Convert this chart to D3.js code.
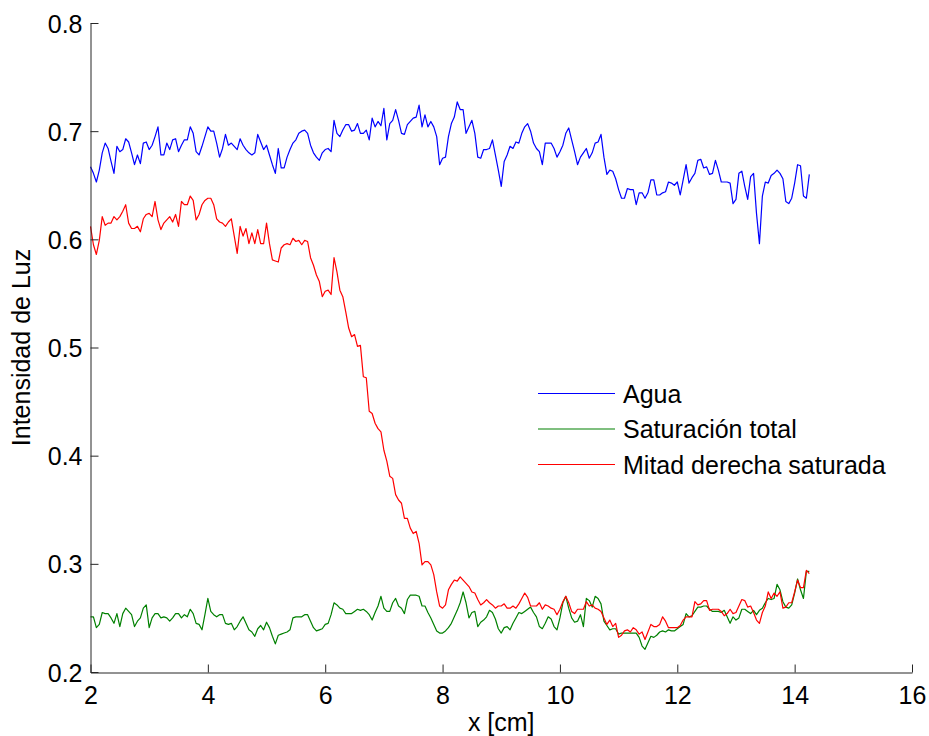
<!DOCTYPE html>
<html>
<head>
<meta charset="utf-8">
<script src="https://cdn.jsdelivr.net/npm/d3@7"></script>
<style>
  html, body { margin: 0; padding: 0; background: #fff; }
  svg { display: block; }
  text { font-family: "Liberation Sans", Arial, Helvetica, sans-serif; fill: #000; }
</style>
</head>
<body>
<svg id="chart" width="929" height="736"></svg>
<script>
// Light intensity profiles along the cell, sampled every 0.05 cm from x = 2 cm
const xStart = 2;
const xStep = 0.05;

const seriesNames = ["Agua", "Saturación total", "Mitad derecha saturada"];
const seriesColors = ["#0000ff", "#008000", "#ff0000"];

const aguaValues = [
  0.667, 0.661, 0.653, 0.664, 0.680, 0.689, 0.684, 0.672, 0.661, 0.686,
  0.681, 0.683, 0.693, 0.690, 0.680, 0.669, 0.678, 0.670, 0.689, 0.690,
  0.683, 0.687, 0.695, 0.704, 0.678, 0.678, 0.689, 0.683, 0.692, 0.693,
  0.681, 0.687, 0.692, 0.692, 0.704, 0.698, 0.681, 0.678, 0.686, 0.695,
  0.704, 0.700, 0.700, 0.689, 0.676, 0.684, 0.697, 0.687, 0.689, 0.686,
  0.683, 0.693, 0.687, 0.683, 0.680, 0.678, 0.680, 0.697, 0.690, 0.683,
  0.687, 0.678, 0.669, 0.661, 0.684, 0.666, 0.666, 0.676, 0.683, 0.689,
  0.692, 0.698, 0.700, 0.701, 0.698, 0.687, 0.680, 0.676, 0.673, 0.680,
  0.683, 0.684, 0.681, 0.710, 0.698, 0.695, 0.701, 0.706, 0.706, 0.700,
  0.701, 0.707, 0.698, 0.698, 0.701, 0.692, 0.712, 0.704, 0.709, 0.705,
  0.721, 0.692, 0.707, 0.710, 0.720, 0.710, 0.698, 0.697, 0.706, 0.709,
  0.712, 0.713, 0.724, 0.704, 0.715, 0.704, 0.709, 0.704, 0.695, 0.669,
  0.675, 0.676, 0.695, 0.707, 0.713, 0.727, 0.720, 0.720, 0.698, 0.704,
  0.710, 0.698, 0.676, 0.675, 0.683, 0.683, 0.684, 0.692, 0.678, 0.664,
  0.649, 0.672, 0.678, 0.686, 0.684, 0.690, 0.689, 0.698, 0.704, 0.707,
  0.700, 0.689, 0.684, 0.681, 0.669, 0.689, 0.689, 0.689, 0.684, 0.676,
  0.681, 0.687, 0.698, 0.703, 0.692, 0.681, 0.669, 0.676, 0.680, 0.684,
  0.675, 0.680, 0.689, 0.690, 0.697, 0.676, 0.660, 0.664, 0.663, 0.656,
  0.646, 0.638, 0.638, 0.647, 0.646, 0.646, 0.632, 0.643, 0.643, 0.638,
  0.643, 0.655, 0.655, 0.641, 0.641, 0.643, 0.644, 0.653, 0.652, 0.650,
  0.653, 0.641, 0.655, 0.669, 0.652, 0.657, 0.661, 0.673, 0.674, 0.666,
  0.667, 0.660, 0.661, 0.673, 0.664, 0.653, 0.653, 0.653, 0.652, 0.633,
  0.637, 0.661, 0.663, 0.649, 0.637, 0.658, 0.661, 0.624, 0.596, 0.640,
  0.653, 0.652, 0.659, 0.661, 0.664, 0.661, 0.656, 0.635, 0.633, 0.638,
  0.652, 0.669, 0.668, 0.640, 0.638, 0.660
];

const saturacionValues = [
  0.251, 0.251, 0.241, 0.244, 0.255, 0.254, 0.254, 0.250, 0.245, 0.254,
  0.242, 0.254, 0.259, 0.256, 0.253, 0.242, 0.247, 0.250, 0.259, 0.262,
  0.241, 0.250, 0.254, 0.254, 0.250, 0.251, 0.250, 0.247, 0.250, 0.254,
  0.254, 0.250, 0.253, 0.251, 0.258, 0.254, 0.245, 0.244, 0.239, 0.253,
  0.268, 0.256, 0.253, 0.251, 0.253, 0.253, 0.245, 0.244, 0.245, 0.239,
  0.242, 0.247, 0.251, 0.245, 0.239, 0.237, 0.233, 0.240, 0.243, 0.239,
  0.246, 0.241, 0.233, 0.226, 0.234, 0.235, 0.236, 0.237, 0.239, 0.250,
  0.251, 0.251, 0.251, 0.253, 0.253, 0.247, 0.241, 0.238, 0.239, 0.240,
  0.244, 0.245, 0.253, 0.264, 0.262, 0.259, 0.258, 0.254, 0.254, 0.254,
  0.256, 0.258, 0.257, 0.258, 0.256, 0.253, 0.248, 0.255, 0.261, 0.270,
  0.259, 0.256, 0.256, 0.264, 0.268, 0.261, 0.259, 0.254, 0.267, 0.271,
  0.271, 0.271, 0.270, 0.261, 0.261, 0.255, 0.250, 0.244, 0.238, 0.236,
  0.236, 0.238, 0.241, 0.245, 0.251, 0.257, 0.264, 0.274, 0.264, 0.250,
  0.255, 0.256, 0.242, 0.246, 0.248, 0.251, 0.257, 0.255, 0.249, 0.240,
  0.236, 0.241, 0.242, 0.239, 0.245, 0.250, 0.255, 0.254, 0.256, 0.258,
  0.260, 0.255, 0.251, 0.242, 0.240, 0.245, 0.251, 0.249, 0.242, 0.239,
  0.250, 0.264, 0.270, 0.259, 0.250, 0.246, 0.247, 0.253, 0.242, 0.268,
  0.266, 0.260, 0.270, 0.268, 0.263, 0.247, 0.243, 0.239, 0.240, 0.240,
  0.235, 0.236, 0.236, 0.236, 0.236, 0.236, 0.236, 0.232, 0.224, 0.221,
  0.227, 0.233, 0.232, 0.234, 0.237, 0.238, 0.237, 0.239, 0.238, 0.238,
  0.240, 0.242, 0.244, 0.254, 0.251, 0.252, 0.256, 0.260, 0.260, 0.261,
  0.261, 0.258, 0.256, 0.256, 0.256, 0.255, 0.257, 0.251, 0.245, 0.251,
  0.248, 0.250, 0.258, 0.258, 0.256, 0.254, 0.257, 0.253, 0.257, 0.259,
  0.264, 0.268, 0.267, 0.268, 0.281, 0.276, 0.265, 0.260, 0.259, 0.262,
  0.273, 0.286, 0.276, 0.268, 0.293, 0.293
];

const mitadValues = [
  0.612, 0.595, 0.586, 0.599, 0.621, 0.613, 0.615, 0.615, 0.621, 0.618,
  0.621, 0.626, 0.632, 0.615, 0.610, 0.610, 0.612, 0.607, 0.619, 0.623,
  0.624, 0.621, 0.635, 0.618, 0.609, 0.615, 0.618, 0.621, 0.616, 0.623,
  0.612, 0.635, 0.632, 0.632, 0.640, 0.636, 0.618, 0.623, 0.632, 0.636,
  0.638, 0.638, 0.632, 0.619, 0.616, 0.615, 0.612, 0.616, 0.619, 0.603,
  0.587, 0.612, 0.603, 0.610, 0.596, 0.606, 0.596, 0.609, 0.596, 0.596,
  0.615, 0.596, 0.581, 0.580, 0.579, 0.592, 0.595, 0.596, 0.595, 0.601,
  0.598, 0.599, 0.595, 0.599, 0.598, 0.583, 0.576, 0.567, 0.561, 0.547,
  0.552, 0.553, 0.549, 0.583, 0.570, 0.553, 0.547, 0.533, 0.518, 0.510,
  0.512, 0.501, 0.502, 0.473, 0.472, 0.441, 0.439, 0.430, 0.425, 0.422,
  0.405, 0.395, 0.381, 0.379, 0.364, 0.359, 0.356, 0.342, 0.342, 0.333,
  0.328, 0.330, 0.319, 0.299, 0.302, 0.302, 0.299, 0.290, 0.274, 0.261,
  0.259, 0.262, 0.276, 0.281, 0.285, 0.284, 0.288, 0.285, 0.282, 0.279,
  0.274, 0.273, 0.267, 0.262, 0.264, 0.267, 0.264, 0.262, 0.259, 0.261,
  0.261, 0.263, 0.259, 0.259, 0.261, 0.259, 0.263, 0.268, 0.273, 0.269,
  0.261, 0.261, 0.261, 0.264, 0.258, 0.262, 0.261, 0.259, 0.258, 0.253,
  0.258, 0.265, 0.270, 0.264, 0.256, 0.254, 0.258, 0.258, 0.258, 0.265,
  0.261, 0.262, 0.259, 0.258, 0.256, 0.250, 0.244, 0.248, 0.242, 0.245,
  0.232, 0.234, 0.238, 0.239, 0.237, 0.241, 0.239, 0.235, 0.237, 0.230,
  0.237, 0.244, 0.242, 0.242, 0.244, 0.251, 0.247, 0.241, 0.241, 0.241,
  0.241, 0.243, 0.248, 0.251, 0.251, 0.251, 0.265, 0.262, 0.263, 0.266,
  0.266, 0.257, 0.258, 0.258, 0.258, 0.256, 0.252, 0.254, 0.258, 0.254,
  0.255, 0.261, 0.267, 0.266, 0.260, 0.261, 0.255, 0.248, 0.245, 0.255,
  0.261, 0.274, 0.268, 0.273, 0.270, 0.274, 0.259, 0.260, 0.264, 0.264,
  0.274, 0.285, 0.278, 0.278, 0.294, 0.291
];

const xTicks = [2, 4, 6, 8, 10, 12, 14, 16];
const yTicks = [0.2, 0.3, 0.4, 0.5, 0.6, 0.7, 0.8];

const svg = d3.select("#chart");
const plot = { left: 90.5, right: 912, top: 23, bottom: 672 };
const fontSize = "25px";

const x = d3.scaleLinear().domain([2, 16]).range([plot.left, plot.right]);
const y = d3.scaleLinear().domain([0.2, 0.8]).range([plot.bottom, plot.top]);

const series = [aguaValues, saturacionValues, mitadValues].map((vals, k) => ({
  name: seriesNames[k],
  color: seriesColors[k],
  points: vals.map((v, i) => ({ x: xStart + i * xStep, v }))
}));

const line = d3.line().x(d => x(d.x)).y(d => y(d.v));

svg.append("g")
  .selectAll("path")
  .data(series)
  .join("path")
  .attr("fill", "none")
  .attr("stroke", d => d.color)
  .attr("stroke-width", 1.2)
  .attr("stroke-linejoin", "round")
  .attr("d", d => line(d.points));

// Axes (MATLAB style: inward ticks, no box)
const axisColor = "#262626";
const xAxis = d3.axisBottom(x).tickValues(xTicks).tickFormat(d3.format("d"))
  .tickSizeInner(-8).tickSizeOuter(0).tickPadding(0);
const gx = svg.append("g").attr("transform", `translate(0,${plot.bottom + 0.5})`).call(xAxis);
gx.select(".domain").attr("stroke", axisColor).attr("stroke-width", 1);
gx.selectAll(".tick line").attr("stroke", axisColor);
gx.selectAll(".tick text")
  .attr("y", 31).attr("dy", null)
  .style("font-size", fontSize).attr("fill", "#000");

const yAxis = d3.axisLeft(y).tickValues(yTicks).tickFormat(d3.format(".1f"))
  .tickSizeInner(-8).tickSizeOuter(0).tickPadding(0);
const gy = svg.append("g").attr("transform", `translate(${plot.left},0)`).call(yAxis);
gy.select(".domain").attr("stroke", axisColor).attr("stroke-width", 1);
gy.selectAll(".tick line").attr("stroke", axisColor);
gy.selectAll(".tick text")
  .attr("x", -8).attr("dy", "0.36em")
  .style("font-size", fontSize).attr("fill", "#000");

// Axis titles
svg.append("text")
  .attr("x", (plot.left + plot.right) / 2)
  .attr("y", 731)
  .attr("text-anchor", "middle")
  .style("font-size", fontSize)
  .text("x [cm]");

svg.append("text")
  .attr("transform", `translate(30,${(plot.top + plot.bottom) / 2}) rotate(-90)`)
  .attr("text-anchor", "middle")
  .style("font-size", fontSize)
  .text("Intensidad de Luz");

// Legend
const legend = svg.append("g");
const legendRows = legend.selectAll("g")
  .data(series)
  .join("g")
  .attr("transform", (d, i) => `translate(538,${393.5 + i * 35.5})`);
legendRows.append("line")
  .attr("x1", 0).attr("x2", 77)
  .attr("stroke", d => d.color)
  .attr("stroke-width", 1.2);
legendRows.append("text")
  .attr("x", 85)
  .attr("dy", "0.36em")
  .style("font-size", fontSize)
  .text(d => d.name);
</script>
</body>
</html>
